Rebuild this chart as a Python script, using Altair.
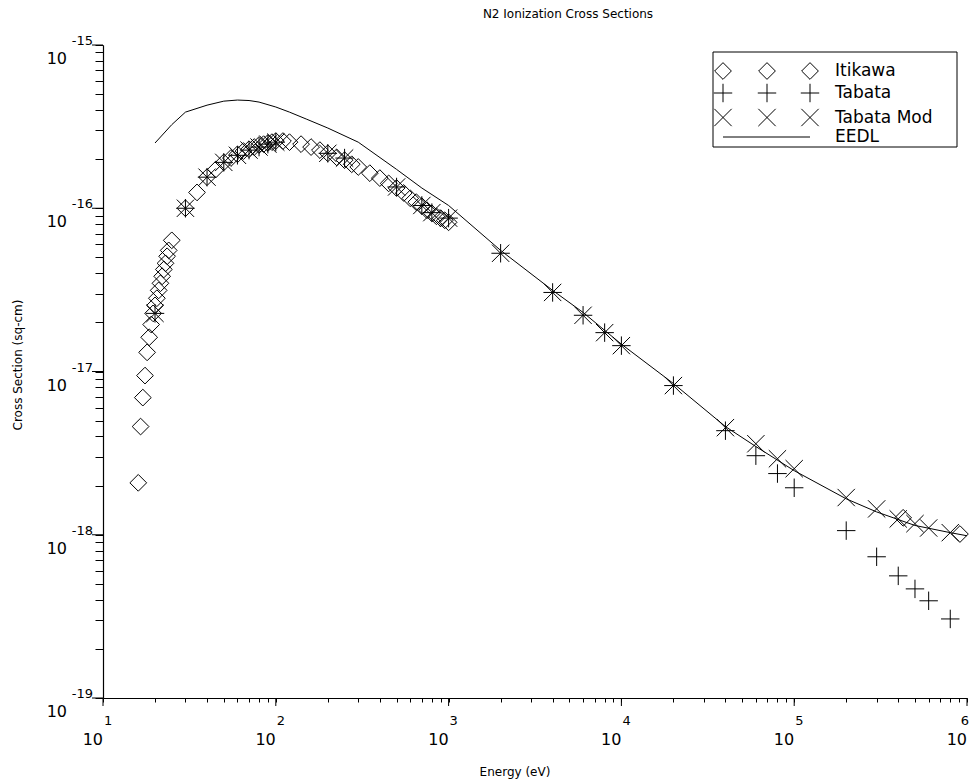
import altair as alt
import pandas as pd

# ---------------- data ----------------
itikawa_E = [16, 16.5, 17, 17.5, 18, 18.5, 19, 19.5, 20, 20.5, 21, 21.5, 22, 22.5, 23, 23.5, 24, 25,
             30, 35, 40, 45, 50, 55, 60, 65, 70, 75, 80, 85, 90, 95, 100,
             110, 120, 140, 160, 180, 200, 225, 250, 275, 300,
             350, 400, 450, 500, 550, 600, 650, 700, 750, 800, 850, 900, 950, 1000,
             4.27e5, 9.1e5]
itikawa_S = [2.08e-18, 4.60e-18, 6.92e-18, 9.44e-18, 1.31e-17, 1.62e-17, 1.94e-17, 2.27e-17, 2.54e-17,
             2.81e-17, 3.14e-17, 3.47e-17, 3.83e-17, 4.22e-17, 4.60e-17, 5.08e-17, 5.52e-17, 6.36e-17,
             1.0e-16, 1.25e-16, 1.55e-16, 1.73e-16, 1.91e-16, 2.03e-16, 2.14e-16, 2.24e-16, 2.30e-16,
             2.37e-16, 2.44e-16, 2.47e-16, 2.51e-16, 2.54e-16, 2.58e-16,
             2.58e-16, 2.54e-16, 2.47e-16, 2.37e-16, 2.27e-16, 2.17e-16, 2.05e-16, 1.97e-16, 1.86e-16, 1.79e-16,
             1.64e-16, 1.53e-16, 1.42e-16, 1.33e-16, 1.24e-16, 1.15e-16, 1.09e-16, 1.03e-16, 9.72e-17,
             9.31e-17, 8.93e-17, 8.68e-17, 8.44e-17, 8.20e-17,
             1.27e-18, 1.01e-18]

tabata_E = [20, 30, 40, 50, 60, 70, 80, 90, 100, 200, 250, 500, 700, 800, 1000,
            2000, 4000, 6000, 8000, 10000, 20000, 40000, 60000, 80000, 100000,
            200000, 300000, 400000, 500000, 600000, 800000]
tabata_S = [2.27e-17, 1.0e-16, 1.55e-16, 1.91e-16, 2.11e-16, 2.27e-16, 2.37e-16, 2.47e-16, 2.54e-16,
            2.17e-16, 2.03e-16, 1.35e-16, 1.04e-16, 9.4e-17, 8.7e-17,
            5.3e-17, 3.05e-17, 2.21e-17, 1.73e-17, 1.44e-17, 8.2e-18, 4.34e-18, 3.05e-18, 2.37e-18, 1.94e-18,
            1.06e-18, 7.33e-19, 5.6e-19, 4.66e-19, 3.94e-19, 3.05e-19]
tabmod_S = [2.27e-17, 1.0e-16, 1.55e-16, 1.91e-16, 2.11e-16, 2.27e-16, 2.37e-16, 2.47e-16, 2.54e-16,
            2.17e-16, 2.03e-16, 1.35e-16, 1.04e-16, 9.4e-17, 8.7e-17,
            5.3e-17, 3.05e-17, 2.21e-17, 1.73e-17, 1.44e-17, 8.2e-18, 4.53e-18, 3.61e-18, 2.92e-18, 2.54e-18,
            1.69e-18, 1.44e-18, 1.25e-18, 1.17e-18, 1.10e-18, 1.03e-18]

eedl_E = [20, 25, 30, 40, 50, 60, 70, 80, 100, 120, 150, 200, 300, 500, 700, 1000,
          2000, 4000, 6000, 1e4, 2e4, 4e4, 6e4, 1e5, 2e5, 3e5, 5e5, 8e5, 1e6]
eedl_S = [2.51e-16, 3.25e-16, 3.88e-16, 4.28e-16, 4.53e-16, 4.60e-16, 4.57e-16, 4.47e-16, 4.17e-16,
          3.88e-16, 3.52e-16, 3.10e-16, 2.54e-16, 1.73e-16, 1.33e-16, 1.04e-16,
          5.52e-17, 3.14e-17, 2.30e-17, 1.47e-17, 8.44e-18, 4.60e-18, 3.47e-18, 2.47e-18, 1.66e-18,
          1.38e-18, 1.14e-18, 1.03e-18, 9.86e-19]

x_exponents = [1, 2, 3, 4, 5, 6]
y_exponents = [-15, -16, -17, -18, -19]
legend_labels = ["Itikawa", "Tabata", "Tabata Mod", "EEDL"]

# ---------------- tables ----------------
W, H = 864, 653
FONT = "DejaVu Sans"

x_major = [10.0 ** e for e in x_exponents]
y_major = [10.0 ** e for e in y_exponents]
x_minor = [m * 10.0 ** e for e in x_exponents[:-1] for m in range(1, 10)] + [10.0 ** x_exponents[-1]]
y_minor = [m * 10.0 ** e for e in sorted(y_exponents)[:-1] for m in range(1, 10)] + [10.0 ** max(y_exponents)]

xs = alt.Scale(type="log", domain=[10, 1e6], nice=False)
ys = alt.Scale(type="log", domain=[1e-19, 1e-15], nice=False)

xaxis = alt.Axis(values=x_minor, labels=False, title=None, tickSize=4, grid=False,
                 domainColor="black", tickColor="black", domainWidth=1.2, tickWidth=1)
yaxis = alt.Axis(values=y_minor, labels=False, title=None, tickSize=8, grid=False,
                 domainColor="black", tickColor="black", domainWidth=1.2, tickWidth=1)

df_it = pd.DataFrame({"E": itikawa_E, "S": itikawa_S})
df_tb = pd.DataFrame({"E": tabata_E, "S": tabata_S})
df_tm = pd.DataFrame({"E": tabata_E, "S": tabmod_S})
df_ed = pd.DataFrame({"E": eedl_E, "S": eedl_S})

PLUS = "M-1,0L1,0M0,-1L0,1"
XSHAPE = "M-1,-1L1,1M-1,1L1,-1"
SZ_D, SZ_P, SZ_X = 280, 340, 300

base_x = alt.X("E:Q", scale=xs, axis=xaxis)
base_y = alt.Y("S:Q", scale=ys, axis=yaxis)

eedl = alt.Chart(df_ed).mark_line(color="black", strokeWidth=1).encode(x=base_x, y=base_y)
itik = alt.Chart(df_it).mark_point(shape="diamond", filled=False, size=SZ_D, stroke="black",
                                   strokeWidth=1, opacity=1).encode(x="E:Q", y="S:Q")
tab = alt.Chart(df_tb).mark_point(shape=PLUS, filled=False, size=SZ_P, stroke="black",
                                  strokeWidth=1, opacity=1).encode(x="E:Q", y="S:Q")
tmod = alt.Chart(df_tm).mark_point(shape=XSHAPE, filled=False, size=SZ_X, stroke="black",
                                   strokeWidth=1, opacity=1).encode(x="E:Q", y="S:Q")

# major ticks (longer)
df_xm = pd.DataFrame({"E": x_major, "exp": [str(e) for e in x_exponents]})
df_ym = pd.DataFrame({"S": y_major, "exp": [str(e) for e in y_exponents]})
xmaj = alt.Chart(df_xm).mark_rule(color="black", strokeWidth=1).encode(
    x="E:Q", y=alt.value(H), y2=alt.value(H + 8))
ymaj = alt.Chart(df_ym).mark_rule(color="black", strokeWidth=1).encode(
    y="S:Q", x=alt.value(-11), x2=alt.value(0))

# tick labels: "10" with exponent
xl10 = alt.Chart(df_xm).mark_text(align="right", baseline="alphabetic", fontSize=16, font=FONT,
                                  color="black").encode(x="E:Q", y=alt.value(H + 47), text=alt.value("10"))
xlexp = alt.Chart(df_xm.iloc[:-1]).mark_text(align="left", baseline="alphabetic", fontSize=13, font=FONT,
                                             dx=1, color="black").encode(
    x="E:Q", y=alt.value(H + 27), text="exp:N")
# last exponent kept inside the drawing edge
xlexp_last = alt.Chart(df_xm.iloc[-1:]).mark_text(align="right", baseline="alphabetic", fontSize=13,
                                                  font=FONT, dx=2, color="black").encode(
    x="E:Q", y=alt.value(H + 27), text="exp:N")
yl10 = alt.Chart(df_ym).mark_text(align="right", baseline="alphabetic", fontSize=16, font=FONT, dy=19,
                                  color="black").encode(y="S:Q", x=alt.value(-36), text=alt.value("10"))
ylexp = alt.Chart(df_ym).mark_text(align="right", baseline="alphabetic", fontSize=13, font=FONT, dy=0,
                                   color="black").encode(y="S:Q", x=alt.value(-10), text="exp:N")

one = pd.DataFrame({"k": [0]})
title = alt.Chart(one).mark_text(fontSize=12, font=FONT, color="black", align="center",
                                 baseline="middle").encode(
    x=alt.value(465), y=alt.value(-31), text=alt.value("N2 Ionization Cross Sections"))
xtitle = alt.Chart(one).mark_text(fontSize=12, font=FONT, color="black", align="center",
                                  baseline="middle").encode(
    x=alt.value(412), y=alt.value(H + 74), text=alt.value("Energy (eV)"))
ytitle = alt.Chart(one).mark_text(fontSize=12, font=FONT, color="black", align="center",
                                  baseline="middle", angle=270).encode(
    x=alt.value(-85), y=alt.value(320), text=alt.value("Cross Section (sq-cm)"))

# legend
box = alt.Chart(one).mark_rect(fill="white", stroke="black", strokeWidth=1).encode(
    x=alt.value(610), x2=alt.value(854), y=alt.value(7), y2=alt.value(102))
rows_y = [26, 48, 72.5, 92]
sym_x = [620, 664, 707]
leg = [box]
shapes = [("diamond", SZ_D), (PLUS, SZ_P), (XSHAPE, SZ_X)]
for i, (shp, sz) in enumerate(shapes):
    for sx in sym_x:
        leg.append(alt.Chart(one).mark_point(shape=shp, filled=False, size=sz, stroke="black",
                                             strokeWidth=1, opacity=1).encode(
            x=alt.value(sx), y=alt.value(rows_y[i])))
leg.append(alt.Chart(one).mark_rule(color="black", strokeWidth=1).encode(
    x=alt.value(sym_x[0]), x2=alt.value(sym_x[-1]), y=alt.value(rows_y[3])))
for i, lab in enumerate(legend_labels):
    leg.append(alt.Chart(one).mark_text(align="left", baseline="middle", fontSize=17, font=FONT,
                                        color="black").encode(
        x=alt.value(732), y=alt.value(rows_y[i]), text=alt.value(lab)))

chart = alt.layer(eedl, itik, tab, tmod, xmaj, ymaj, xl10, xlexp, xlexp_last, yl10, ylexp,
                  title, xtitle, ytitle, *leg).properties(
    width=W, height=H,
    autosize=alt.AutoSizeParams(type="none"),
    padding={"left": 95, "top": 37, "right": 2, "bottom": 90},
    background="white",
).configure_view(stroke=None)

chart.save("out.html", embed_options={"renderer": "svg", "actions": False})
